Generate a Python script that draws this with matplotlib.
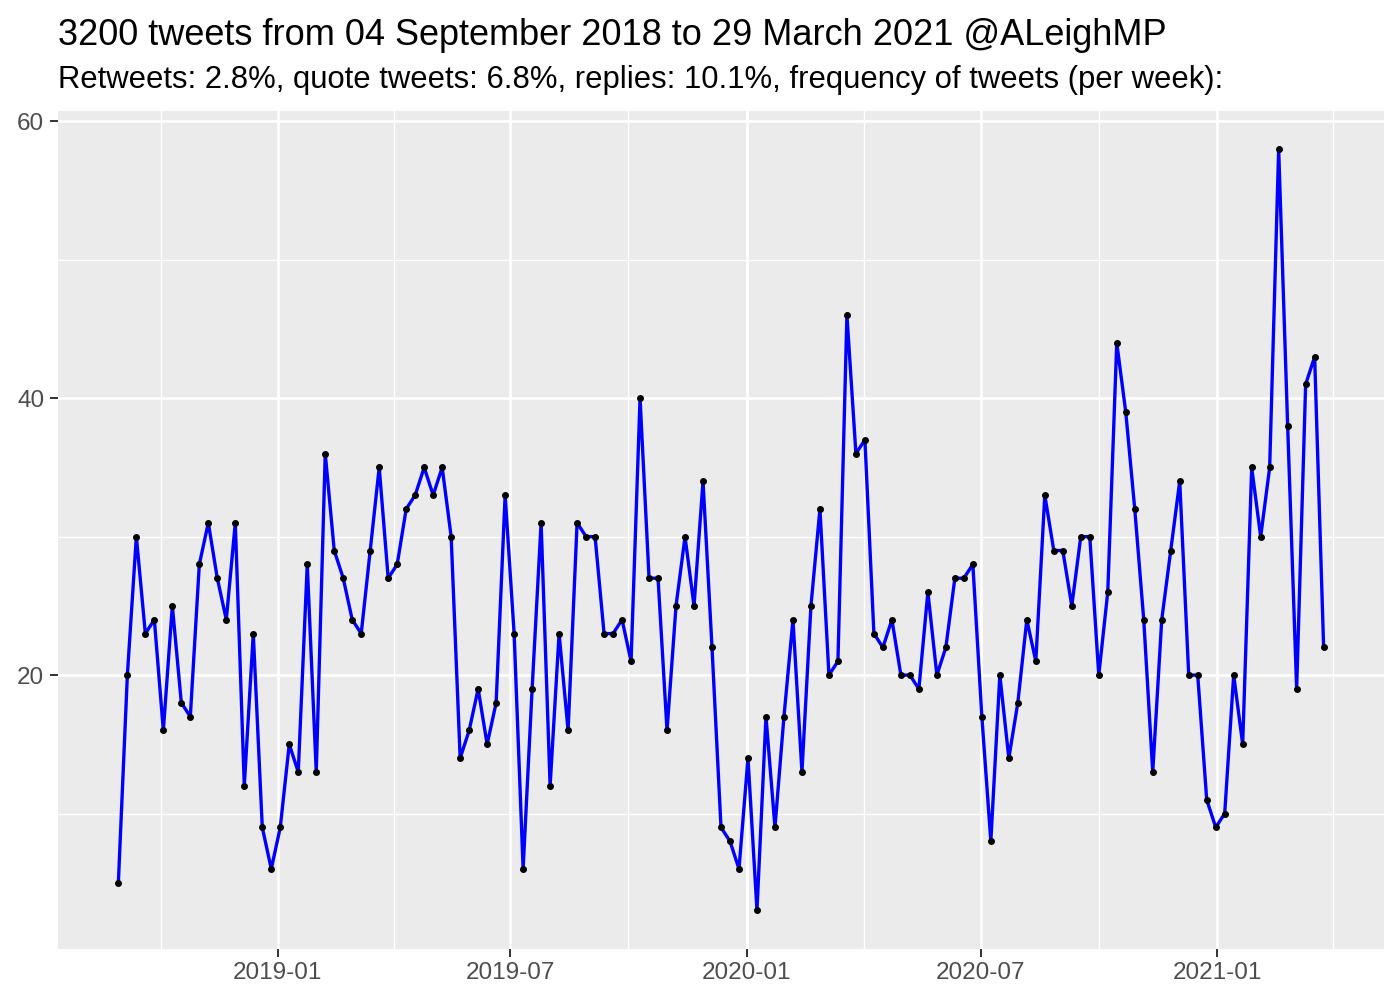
import matplotlib
matplotlib.use("Agg")
import matplotlib.pyplot as plt
import matplotlib.dates as mdates
import pandas as pd

title = "3200 tweets from 04 September 2018 to 29 March 2021 @ALeighMP"
subtitle = ("Retweets: 2.8%, quote tweets: 6.8%, replies: 10.1%, "
            "frequency of tweets (per week):")

first_week = "2018-08-30"
tweets_per_week = [
    5, 20, 30, 23, 24, 16, 25, 18, 17, 28, 31, 27, 24, 31, 12, 23, 9, 6, 9, 15,
    13, 28, 13, 36, 29, 27, 24, 23, 29, 35, 27, 28, 32, 33, 35, 33, 35, 30, 14, 16,
    19, 15, 18, 33, 23, 6, 19, 31, 12, 23, 16, 31, 30, 30, 23, 23, 24, 21, 40, 27,
    27, 16, 25, 30, 25, 34, 22, 9, 8, 6, 14, 3, 17, 9, 17, 24, 13, 25, 32, 20,
    21, 46, 36, 37, 23, 22, 24, 20, 20, 19, 26, 20, 22, 27, 27, 28, 17, 8, 20, 14,
    18, 24, 21, 33, 29, 29, 25, 30, 30, 20, 26, 44, 39, 32, 24, 13, 24, 29, 34, 20,
    20, 11, 9, 10, 20, 15, 35, 30, 35, 58, 38, 19, 41, 43, 22,
]
major_dates = ["2019-01-01", "2019-07-01", "2020-01-01", "2020-07-01", "2021-01-01"]
major_labels = ["2019-01", "2019-07", "2020-01", "2020-07", "2021-01"]
y_major = [20, 40, 60]
y_minor = [10, 30, 50]

weeks = pd.date_range(first_week, periods=len(tweets_per_week), freq="7D")
x = mdates.date2num(weeks.to_pydatetime())
majors = mdates.date2num(pd.to_datetime(major_dates).to_pydatetime())
step = majors[1] - majors[0]
minors = [majors[0] - step / 2] + [(a + b) / 2 for a, b in zip(majors[:-1], majors[1:])] \
    + [majors[-1] + step / 2]

fig = plt.figure(figsize=(14, 10), dpi=100)
ax = fig.add_axes([0.0415, 0.0515, 0.947, 0.8375])
ax.set_facecolor("#EBEBEB")

ax.plot(x, tweets_per_week, color="blue", linewidth=2.4, zorder=3)
ax.plot(x, tweets_per_week, linestyle="none", marker="o", markersize=4,
        color="black", zorder=4)

span = x[-1] - x[0]
ax.set_xlim(x[0] - 0.05 * span, x[-1] + 0.05 * span)
yr = max(tweets_per_week) - min(tweets_per_week)
ax.set_ylim(min(tweets_per_week) - 0.05 * yr, max(tweets_per_week) + 0.05 * yr)

ax.set_xticks(majors)
ax.set_xticklabels(major_labels)
ax.set_xticks(minors, minor=True)
ax.set_yticks(y_major)
ax.set_yticks(y_minor, minor=True)

ax.grid(which="major", color="white", linewidth=2.0)
ax.grid(which="minor", color="white", linewidth=1.0)
ax.set_axisbelow(True)
for s in ax.spines.values():
    s.set_visible(False)

ax.tick_params(which="major", length=5.5, width=1.4, color="#333333",
               labelcolor="#4D4D4D", labelsize=17.5, pad=4.5)
ax.tick_params(which="minor", length=0)

fig.text(0.0415, 0.955, title, fontsize=26, color="black",
         family="Liberation Sans", va="baseline", ha="left")
fig.text(0.0415, 0.912, subtitle, fontsize=22.3, color="black",
         family="Liberation Sans", va="baseline", ha="left")
for lbl in ax.get_xticklabels() + ax.get_yticklabels():
    lbl.set_family("Liberation Sans")

fig.savefig("out.png", dpi=100)
